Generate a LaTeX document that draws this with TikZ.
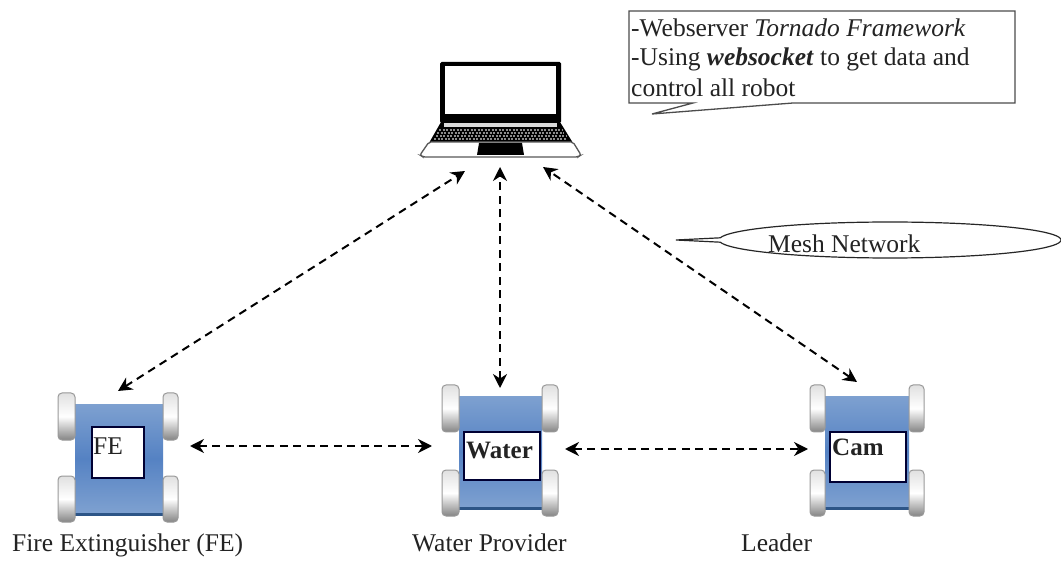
\documentclass[tikz,border=0pt]{standalone}
\usepackage{fontspec}
\setmainfont{Liberation Serif}
\usetikzlibrary{arrows.meta}
\definecolor{bodyblue}{RGB}{125,160,208}
\definecolor{bodymid}{RGB}{85,130,195}
\definecolor{bodyedge}{RGB}{45,85,135}
\definecolor{ink}{RGB}{35,35,35}
\tikzset{
 x=1pt,y=-1pt,
 link/.style={line width=2pt,dash pattern=on 8pt off 5.5pt,{Stealth[length=14pt,width=14pt]}-{Stealth[length=14pt,width=14pt]}},
 lbl/.style={font=\fontsize{25.5}{28}\selectfont,text=ink,inner sep=0pt,anchor=base west},
 boldlbl/.style={font=\fontsize{25}{28}\selectfont\bfseries,text=ink,inner sep=0pt,anchor=base west},
 wheel/.style={draw=black!40,line width=1pt,rounded corners=4pt,top color=black!12,bottom color=black!48,middle color=white},
 callout/.style={draw=black!70,line width=1.3pt,fill=white},
 keyrow/.style={draw=black!45,line width=1.1pt,dash pattern=on 2pt off 1.5pt},
}
% x0 y0 x1 y1 wheel-left-edge wheel-right-edge
\newcommand{\robotbody}[6]{%
 \fill[bodyedge] (#1,#2) rectangle (#3,#4);
 \shade[top color=bodyblue,bottom color=bodyblue,middle color=bodymid] (#1,#2) rectangle (#3,#4-4);
 \draw[wheel] (#5,#2-12) rectangle (#1,#2+35);
 \draw[wheel] (#5,#4-40) rectangle (#1,#4+6);
 \draw[wheel] (#3,#2-12) rectangle (#6,#2+35);
 \draw[wheel] (#3,#4-40) rectangle (#6,#4+6);
}
% x0 y0 x1 y1 name
\newcommand{\robotscreen}[5]{%
 \draw[black!80!blue,line width=1.2pt,fill=white] (#1,#2) rectangle (#3,#4);
 \coordinate (#5) at (#1,#2);
}
\begin{document}
\begin{tikzpicture}
\useasboundingbox (0,0) rectangle (1061,561);
\fill[white] (0,0) rectangle (1061,561);
% laptop
\fill[black,rounded corners=1.5pt] (440,62) -- (561,62) -- (561,123) -- (440,123) -- cycle;
\fill[white] (445,66) rectangle (556,114);
\fill[black] (441,122) -- (560,122) -- (573,143) -- (429,143) -- cycle;
\fill[white!85!black] (444,123.5) rectangle (557,127);
\foreach \yy/\xa/\xb in {130/439/562,133/437/564,136/436/566,139/434/567}{\draw[keyrow] (\xa,\yy) -- (\xb,\yy);}
\draw[black!65,line width=1.3pt,fill=white,rounded corners=2pt] (429,142) -- (573,142) -- (581,155) -- (578,157) -- (423,157) -- (420,155) -- cycle;
\fill[black] (479,143) -- (522,143) -- (524,155) -- (477,155) -- cycle;
\node[inner sep=0pt,minimum width=160pt,minimum height=95pt] (laptop) at (500.5,109.5) {};
% robots
\robotbody{75}{405}{163}{516}{58}{178}
\robotscreen{92}{427}{144}{478}{fescreen}
\node[lbl] (felabel) at (93,454) {FE};
\robotbody{459}{397}{542}{510}{442}{558}
\robotscreen{464}{432}{540}{480}{waterscreen}
\node[boldlbl] (waterlabel) at (466,458) {Water};
\robotbody{825}{397}{909}{510}{810}{924}
\robotscreen{830}{432}{906}{482}{camscreen}
\node[boldlbl] (camlabel) at (832,455) {Cam};
% captions
\node[lbl] (cap1) at (12,551) {Fire Extinguisher (FE)};
\node[lbl] (cap2) at (412,551) {Water Provider};
\node[lbl] (cap3) at (741,551) {Leader};
% connector ends
\coordinate (lapA) at (465,171);
\coordinate (lapB) at (500,167);
\coordinate (lapC) at (543,167);
\coordinate (feT) at (118,391);
\coordinate (waterT) at (500,388);
\coordinate (camT) at (857,382);
\coordinate (feR) at (190,446);
\coordinate (waterL) at (432,446);
\coordinate (waterR) at (565,449);
\coordinate (camL) at (808,449);
\draw[link] (feT) -- (lapA);
\draw[link] (waterT) -- (lapB);
\draw[link] (camT) -- (lapC);
\draw[link] (feR) -- (waterL);
\draw[link] (waterR) -- (camL);
% callouts
\draw[callout] (629,11) -- (1015,11) -- (1015,103) -- (793,103) -- (652,114) -- (693,103) -- (629,103) -- cycle;
\node[lbl] (note1) at (631,37) {-Webserver \textit{Tornado Framework}};
\node[lbl] (note2) at (631,66) {-Using \textbf{\textit{websocket}} to get data and};
\node[lbl] (note3) at (631,97) {control all robot};
\draw[draw=black!85,line width=1.2pt,fill=white] (676,240) -- plot[domain=187:533,samples=90] ({890+171*cos(\x)},{240+18*sin(\x)}) -- cycle;
\node[lbl] (mesh) at (768,253) {Mesh Network};
\end{tikzpicture}
\end{document}
